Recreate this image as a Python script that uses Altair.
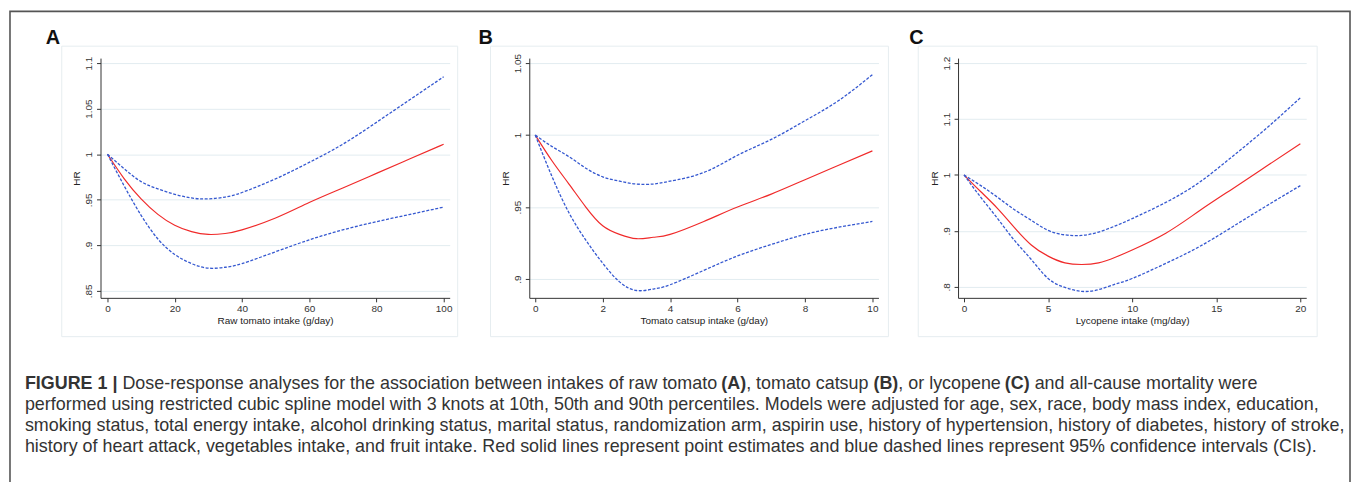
import altair as alt
import pandas as pd

# ---------------- data ----------------
# Panel A: raw tomato intake (g/day)
a_x = [0, 5, 10, 15, 20, 25, 30, 35, 40, 50, 60, 70, 80, 90, 100]
a_hr = [1.0, 0.973, 0.951, 0.934, 0.922, 0.915, 0.912, 0.913, 0.917, 0.930, 0.947, 0.963, 0.979, 0.995, 1.011]
a_hi = [1.0, 0.984, 0.970, 0.962, 0.956, 0.952, 0.951, 0.953, 0.958, 0.973, 0.991, 1.011, 1.035, 1.060, 1.085]
a_lo = [1.0, 0.965, 0.933, 0.907, 0.890, 0.880, 0.875, 0.876, 0.880, 0.893, 0.906, 0.917, 0.926, 0.934, 0.942]

# Panel B: tomato catsup intake (g/day)
b_x = [0, 0.5, 1, 1.5, 2, 2.5, 3, 3.5, 4, 5, 6, 7, 8, 9, 10]
b_hr = [1.0, 0.982, 0.966, 0.950, 0.937, 0.931, 0.928, 0.929, 0.931, 0.940, 0.950, 0.959, 0.969, 0.979, 0.989]
b_hi = [1.0, 0.992, 0.985, 0.977, 0.971, 0.968, 0.966, 0.966, 0.968, 0.974, 0.986, 0.997, 1.010, 1.024, 1.042]
b_lo = [1.0, 0.971, 0.946, 0.927, 0.911, 0.898, 0.892, 0.893, 0.896, 0.906, 0.916, 0.924, 0.931, 0.936, 0.940]

# Panel C: lycopene intake (mg/day)
c_x = [0, 1, 2, 3, 4, 5, 6, 7, 8, 9, 10, 12, 14, 16, 18, 20]
c_hr = [1.0, 0.970, 0.940, 0.906, 0.875, 0.855, 0.843, 0.840, 0.843, 0.853, 0.866, 0.896, 0.936, 0.976, 1.016, 1.056]
c_hi = [1.0, 0.981, 0.960, 0.938, 0.919, 0.901, 0.893, 0.892, 0.898, 0.909, 0.922, 0.951, 0.987, 1.034, 1.084, 1.138]
c_lo = [1.0, 0.960, 0.922, 0.883, 0.849, 0.815, 0.799, 0.792, 0.795, 0.805, 0.815, 0.842, 0.872, 0.908, 0.945, 0.981]

a_xticks = [0, 20, 40, 60, 80, 100]
a_yticks = [0.85, 0.9, 0.95, 1.0, 1.05, 1.1]
b_xticks = [0, 2, 4, 6, 8, 10]
b_yticks = [0.9, 0.95, 1.0, 1.05]
c_xticks = [0, 5, 10, 15, 20]
c_yticks = [0.8, 0.9, 1.0, 1.1, 1.2]

x_titles = ["Raw tomato intake (g/day)", "Tomato catsup intake (g/day)", "Lycopene intake (mg/day)"]
letters = ["A", "B", "C"]

caption_line1 = [
    ("FIGURE 1 |", "bold", 25),
    ("Dose-response analyses for the association between intakes of raw tomato", "normal", 123),
    ("(A)", "bold", 725),
    (", tomato catsup", "normal", 750),
    ("(B)", "bold", 878),
    (", or lycopene", "normal", 903),
    ("(C)", "bold", 1010),
    ("and all-cause mortality were", "normal", 1040),
]
caption_rest = [
    "performed using restricted cubic spline model with 3 knots at 10th, 50th and 90th percentiles. Models were adjusted for age, sex, race, body mass index, education,",
    "smoking status, total energy intake, alcohol drinking status, marital status, randomization arm, aspirin use, history of hypertension, history of diabetes, history of stroke,",
    "history of heart attack, vegetables intake, and fruit intake. Red solid lines represent point estimates and blue dashed lines represent 95% confidence intervals (CIs).",
]

# ---------------- style ----------------
RED = "#f02a2a"
BLUE = "#3558d0"
GRID = "#e2ecf0"
BOX = "#e6edf0"
FONT = "Liberation Sans"
W = 351
H = 241
CAP_FONT = "Liberation Sans"
CAP_SIZE = 18
VIEW_A_LEFT = 101
VIEW_TOP = 57

one = pd.DataFrame({"k": [0]})


def panel(x, hr, lo, hi, xdom, ydom, xticks, yticks, xtitle, letter, box, lx, width, extra=None):
    df = pd.DataFrame({"x": x, "hr": hr, "lo": lo, "hi": hi})
    xs = alt.Scale(domain=xdom, nice=False, zero=False)
    ys = alt.Scale(domain=ydom, nice=False, zero=False)
    xenc = alt.X("x:Q", scale=xs, axis=alt.Axis(values=xticks, title=xtitle, grid=False,
                                                  labelPadding=2, titlePadding=2))

    def yenc(field):
        return alt.Y(f"{field}:Q", scale=ys,
                     axis=alt.Axis(values=yticks, title="HR", grid=True, gridColor=GRID,
                                   labelAngle=270, labelAlign="center", labelBaseline="bottom",
                                   labelPadding=3, titlePadding=2,
                                   labelExpr="replace(format(datum.value, '.2~f'), '0.', '.')"))
    base = alt.Chart(df)
    red = base.mark_line(color=RED, strokeWidth=1.2, interpolate="natural").encode(x=xenc, y=yenc("hr"))
    up = base.mark_line(color=BLUE, strokeWidth=1.3, strokeDash=[3, 1.6], interpolate="natural").encode(x=xenc, y=yenc("hi"))
    dn = base.mark_line(color=BLUE, strokeWidth=1.3, strokeDash=[3, 1.6], interpolate="natural").encode(x=xenc, y=yenc("lo"))
    rect = alt.Chart(one).mark_rect(filled=False, stroke=BOX, strokeWidth=1).encode(
        x=alt.value(box[0]), x2=alt.value(box[1]), y=alt.value(box[2]), y2=alt.value(box[3]))
    lab = alt.Chart(one).mark_text(font=FONT, fontSize=20, fontWeight="bold", color="#111",
                                   align="left", baseline="alphabetic").encode(
        x=alt.value(lx), y=alt.value(-14), text=alt.value(letter))
    layers = [rect, red, up, dn, lab]
    if extra:
        layers = extra + layers
    return alt.layer(*layers).properties(width=width, height=H)


# frame + caption (drawn in panel A's coordinate space)
frame = alt.Chart(one).mark_rect(filled=False, stroke="#555", strokeWidth=1.6).encode(
    x=alt.value(10 - VIEW_A_LEFT), x2=alt.value(1357 - VIEW_A_LEFT),
    y=alt.value(10 - VIEW_TOP), y2=alt.value(530 - VIEW_TOP))
extra = [frame]
base_lines = [390, 411, 432, 453]
for txt, wt, px in caption_line1:
    extra.append(alt.Chart(one).mark_text(font=CAP_FONT, fontSize=CAP_SIZE, fontWeight=wt, color="#333",
                                          align="left", baseline="alphabetic").encode(
        x=alt.value(px - VIEW_A_LEFT), y=alt.value(base_lines[0] - VIEW_TOP), text=alt.value(txt)))
for i, txt in enumerate(caption_rest):
    extra.append(alt.Chart(one).mark_text(font=CAP_FONT, fontSize=CAP_SIZE, color="#333",
                                          align="left", baseline="alphabetic").encode(
        x=alt.value(25 - VIEW_A_LEFT), y=alt.value(base_lines[i + 1] - VIEW_TOP), text=alt.value(txt)))

pA = panel(a_x, a_hr, a_lo, a_hi, [-2.07, 101.8], [0.8424, 1.1055], a_xticks, a_yticks, x_titles[0],
           letters[0], (-39, 359, -12, 280), -55, W, extra)
pB = panel(b_x, b_hr, b_lo, b_hi, [-0.177, 10.18], [0.8869, 1.0535], b_xticks, b_yticks, x_titles[1],
           letters[1], (-39, 361, -12, 280), -51, W)
pC = panel(c_x, c_hr, c_lo, c_hi, [-0.355, 20.35], [0.7804, 1.2089], c_xticks, c_yticks, x_titles[2],
           letters[2], (-40, 361, -12, 280), -49, 350)

chart = alt.hconcat(pA, pB, pC, spacing=80, bounds="flush").properties(
    padding={"left": 1, "top": 1, "right": 0, "bottom": 0}
).configure_view(stroke=None).configure_axis(
    labelFont=FONT, labelFontSize=10, labelColor="#333", titleFont=FONT, titleFontSize=10,
    titleFontWeight="normal", titleColor="#222", domainColor="#333", tickColor="#333",
    tickSize=4, domainWidth=1, tickWidth=1, gridWidth=1
)

chart.save("out.html", embed_options={"renderer": "svg", "actions": False})
